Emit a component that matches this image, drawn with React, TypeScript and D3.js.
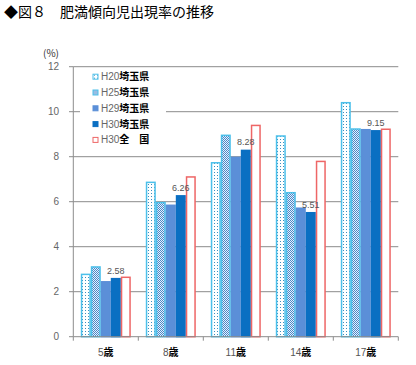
import React from "react";
import * as d3 from "d3";

const categories = ["5", "8", "11", "14", "17"];
const seriesNames = ["H20", "H25", "H29", "H30", "H30"];
const seriesPlaces = ["埼玉県", "埼玉県", "埼玉県", "埼玉県", "全　国"];
const h20 = [2.77, 6.86, 7.73, 8.92, 10.4];
const h25 = [3.1, 5.96, 8.95, 6.4, 9.23];
const h29 = [2.44, 5.84, 7.97, 5.71, 9.2];
const h30 = [2.58, 6.26, 8.28, 5.51, 9.15];
const h30national = [2.64, 7.1, 9.39, 7.79, 9.22];
const yTicks = [0, 2, 4, 6, 8, 10, 12];

const seriesValues = [h20, h25, h29, h30, h30national];
const fills = ["url(#dots)", "url(#checker)", "#5b8fd8", "#0a6fc2", "#ffffff"];
const strokes = ["#4cc0ea", "#4cc0ea", "#5b8fd8", "#0a6fc2", "#ee6666"];

const jp = "'Noto Sans CJK JP', sans-serif";
const num = "'Liberation Sans', Arial, sans-serif";

export default function App() {
  const x = d3.scaleBand<string>().domain(categories).range([73.3, 398.3]).padding(0);
  const inner = d3
    .scaleBand<number>()
    .domain(d3.range(5))
    .range([0, x.bandwidth()])
    .paddingInner(0)
    .paddingOuter(0.75);
  const y = d3.scaleLinear().domain([0, 12]).range([336.7, 66.7]);

  return (
    <svg width={416} height={365} style={{ position: "absolute", left: 0, top: 0, background: "#fff" }}>
      <defs>
        <pattern id="dots" width={3} height={3} patternUnits="userSpaceOnUse">
          <rect width={3} height={3} fill="#ffffff" />
          <rect x={1} y={1} width={1} height={1} fill="#3a8fc0" />
        </pattern>
        <pattern id="checker" width={2} height={2} patternUnits="userSpaceOnUse">
          <rect width={2} height={2} fill="#e8f2fb" />
          <rect width={1} height={1} fill="#4a86c8" />
          <rect x={1} y={1} width={1} height={1} fill="#4a86c8" />
        </pattern>
      </defs>

      <text x={4} y={17} fontFamily={jp} fontSize={14} fill="#000">
        ◆図８　肥満傾向児出現率の推移
      </text>
      <text x={43} y={57} fontFamily={jp} fontSize={10} fill="#333">
        (%)
      </text>

      {/* grid + y axis */}
      {yTicks.map((t) => (
        <g key={t}>
          {t > 0 && <line x1={73.3} x2={398.3} y1={y(t)} y2={y(t)} stroke="#8c8c8c" strokeWidth={1} />}
          <line x1={69} x2={73.3} y1={y(t)} y2={y(t)} stroke="#8c8c8c" />
          <text x={59} y={y(t) + 3.5} textAnchor="end" fontFamily={num} fontSize={10} fill="#666">
            {t}
          </text>
        </g>
      ))}

      {/* legend box covers grid */}
      <rect x={80} y={68} width={86} height={88} fill="#ffffff" />

      {/* bars */}
      {seriesValues.map((vals, si) =>
        categories.map((c, ci) => {
          const bx = (x(c) ?? 0) + (inner(si) ?? 0);
          const by = y(vals[ci]);
          return (
            <rect
              key={si + "-" + c}
              x={bx + 0.75}
              y={by}
              width={inner.bandwidth() - 1.5}
              height={y(0) - by}
              fill={fills[si]}
              stroke={strokes[si]}
              strokeWidth={1.5}
            />
          );
        })
      )}

      {/* value labels for H30 埼玉県 */}
      {categories.map((c, ci) => (
        <text
          key={"lab" + c}
          x={(x(c) ?? 0) + (inner(3) ?? 0) + inner.bandwidth() / 2}
          y={y(h30[ci]) - 5}
          textAnchor="middle"
          fontFamily={num}
          fontSize={9}
          fill="#555"
        >
          {h30[ci].toFixed(2)}
        </text>
      ))}

      {/* x axis */}
      <line x1={73.3} x2={73.3} y1={y(12)} y2={y(0)} stroke="#8c8c8c" />
      <line x1={73.3} x2={398.3} y1={y(0)} y2={y(0)} stroke="#8c8c8c" />
      {categories.map((c) => (
        <line key={"t" + c} x1={x(c)} x2={x(c)} y1={y(0)} y2={y(0) + 4} stroke="#8c8c8c" />
      ))}
      <line x1={398.3} x2={398.3} y1={y(0)} y2={y(0) + 4} stroke="#8c8c8c" />
      {categories.map((c) => (
        <text
          key={"c" + c}
          x={(x(c) ?? 0) + x.bandwidth() / 2}
          y={356}
          textAnchor="middle"
          fontSize={10}
        >
          <tspan fontFamily={num} fill="#555">{c}</tspan>
          <tspan fontFamily={jp} fill="#000" fontWeight="bold">歳</tspan>
        </text>
      ))}

      {/* legend */}
      {seriesNames.map((n, i) => (
        <g key={"lg" + i} transform={`translate(93, ${76.7 + i * 15.8})`}>
          <rect x={0} y={-2.5} width={5} height={5} fill={fills[i]} stroke={strokes[i]} strokeWidth={1} />
          <text x={8} y={3.5} fontSize={10}>
            <tspan fontFamily={num} fill="#666">{n}</tspan>
            <tspan fontFamily={jp} fill="#000" fontWeight="bold">{seriesPlaces[i]}</tspan>
          </text>
        </g>
      ))}
    </svg>
  );
}
